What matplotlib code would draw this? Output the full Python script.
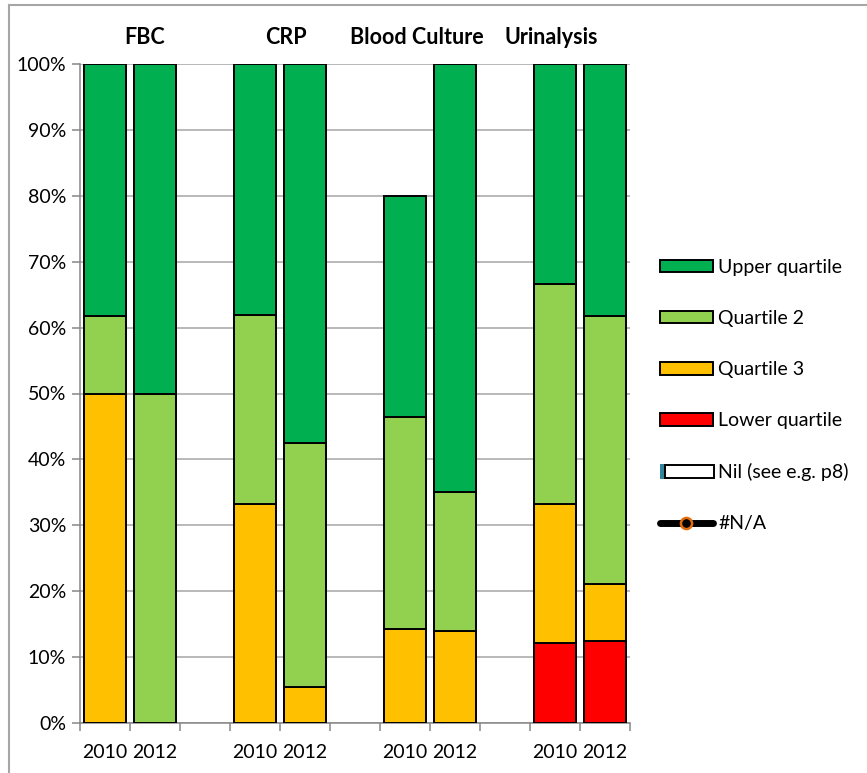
import matplotlib
matplotlib.use("Agg")
import matplotlib.pyplot as plt
from matplotlib.patches import Rectangle
from matplotlib.lines import Line2D
from matplotlib.legend_handler import HandlerBase
import numpy as np

plt.rcParams['font.family'] = ['Lato', 'DejaVu Sans']

# Categories along the x axis (blank slots separate the test groups)
years = ["2010", "2012", "", "2010", "2012", "", "2010", "2012", "", "2010", "2012"]
groups = ["FBC", "CRP", "Blood Culture", "Urinalysis"]

# Stacked shares (%) per slot, bottom to top
lower_quartile = [0, 0, 0, 0, 0, 0, 0, 0, 0, 12.1, 12.5]
quartile_3 = [50, 0, 0, 33.3, 5.5, 0, 14.3, 13.9, 0, 21.2, 8.6]
quartile_2 = [11.8, 50, 0, 28.6, 37.0, 0, 32.1, 21.1, 0, 33.3, 40.6]
upper_quartile = [38.2, 50, 0, 38.1, 57.5, 0, 33.6, 65.0, 0, 33.4, 38.3]

series = [
    ("Lower quartile", lower_quartile, "#FF0000"),
    ("Quartile 3", quartile_3, "#FFC000"),
    ("Quartile 2", quartile_2, "#92D050"),
    ("Upper quartile", upper_quartile, "#00B050"),
]

fig = plt.figure(figsize=(8.67, 7.73), dpi=100)
W, H = 867, 773
ax = fig.add_axes([80 / W, 1 - 723 / H, 550 / W, 659 / H])

x = np.arange(len(years))
bottom = np.zeros(len(years))
for name, vals, col in series:
    vals = np.array(vals, dtype=float)
    mask = vals > 0
    ax.bar(x[mask], vals[mask], bottom=bottom[mask], width=0.83, color=col,
           edgecolor="black", linewidth=1.4, zorder=3)
    bottom += vals

ax.set_xlim(-0.5, len(years) - 0.5)
ax.set_ylim(0, 100)
ax.set_yticks(np.arange(0, 101, 10))
ax.set_yticklabels([f"{v}%" for v in range(0, 101, 10)], fontsize=14)
ax.yaxis.grid(True, color="#A6A6A6", linewidth=1.1, zorder=0)
ax.set_axisbelow(True)

# Year labels centred on each slot, ticks on the slot boundaries
ax.set_xticks(x)
ax.set_xticklabels(years, fontsize=14)
ax.tick_params(axis="x", which="major", length=0, pad=15)
ax.set_xticks(np.arange(-0.5, len(years), 1), minor=True)
ax.tick_params(axis="x", which="minor", length=6, color="#868686", width=1.1)
ax.tick_params(axis="y", length=6, color="#868686", width=1.1, pad=4)

for s in ["top", "right"]:
    ax.spines[s].set_visible(False)
for s in ["left", "bottom"]:
    ax.spines[s].set_color("#868686")
    ax.spines[s].set_linewidth(1.1)

# Group headings above the bars
heading_x = [145, 286, 417, 551]
for name, px in zip(groups, heading_x):
    fig.text(px / W, 1 - 37 / H, name, ha="center", va="center",
             fontsize=15.5, fontweight="bold")


class NilHandler(HandlerBase):
    def create_artists(self, legend, orig_handle, xdescent, ydescent,
                       width, height, fontsize, trans):
        tab = Rectangle((-xdescent, -ydescent - 1), width * 0.1, height + 2,
                        facecolor="#31859C", edgecolor="none", transform=trans)
        box = Rectangle((-xdescent + width * 0.1, -ydescent), width * 0.92, height,
                        facecolor="white", edgecolor="black", linewidth=1.4,
                        transform=trans)
        return [tab, box]


class NilKey:
    pass


handles = [
    Rectangle((0, 0), 1, 1, facecolor="#00B050", edgecolor="black", linewidth=1.4),
    Rectangle((0, 0), 1, 1, facecolor="#92D050", edgecolor="black", linewidth=1.4),
    Rectangle((0, 0), 1, 1, facecolor="#FFC000", edgecolor="black", linewidth=1.4),
    Rectangle((0, 0), 1, 1, facecolor="#FF0000", edgecolor="black", linewidth=1.4),
    NilKey(),
    Line2D([0], [0], color="black", linewidth=5, solid_capstyle="round",
           marker="o", markersize=8, markerfacecolor="black",
           markeredgecolor="#E46C0A", markeredgewidth=1.8),
]
labels = ["Upper quartile", "Quartile 2", "Quartile 3", "Lower quartile",
          "Nil (see e.g. p8)", "#N/A"]
fig.legend(handles, labels, loc="upper left",
           bbox_to_anchor=(660 / W, 1 - 259 / H),
           frameon=False, fontsize=14, handlelength=2.7, handleheight=0.62,
           handletextpad=0.3, labelspacing=1.75, borderaxespad=0,
           borderpad=0, handler_map={NilKey: NilHandler()})

# Chart frame lines
fig.add_artist(Line2D([9 / W, 1], [1 - 5 / H, 1 - 5 / H], color="#A6A6A6",
                      linewidth=1.5, transform=fig.transFigure))
fig.add_artist(Line2D([9 / W, 9 / W], [0, 1 - 5 / H], color="#A6A6A6",
                      linewidth=1.5, transform=fig.transFigure))

fig.savefig("out.png", dpi=100)
